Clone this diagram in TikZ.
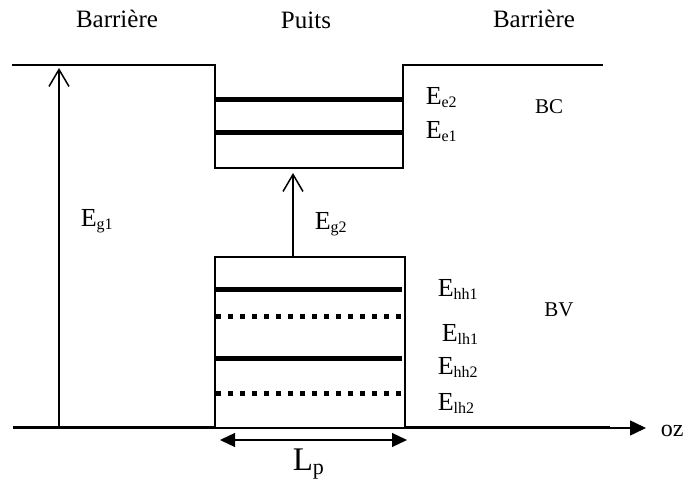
\documentclass[tikz,border=0pt]{standalone}
\usepackage{fontspec}
\setmainfont{Liberation Serif}
\usetikzlibrary{arrows.meta}
\newcommand{\indice}[1]{\raisebox{-3bp}{\fontsize{16bp}{16bp}\selectfont #1}}
\tikzset{
  etiq/.style={inner sep=0pt,anchor=base west,font=\fontsize{26bp}{26bp}\selectfont},
  titre/.style={inner sep=0pt,anchor=base,font=\fontsize{25bp}{25bp}\selectfont},
  bande/.style={inner sep=0pt,anchor=base,font=\fontsize{21bp}{21bp}\selectfont},
  niveauhh/.style={line width=5bp},
  niveaulh/.style={line width=5bp,dash pattern=on 5bp off 7bp},
  energie/.style={line width=1.5bp,-{Straight Barb[length=17bp,width=20bp]}},
}
\begin{document}
\begin{tikzpicture}[line width=1.5bp,line join=miter]
  \useasboundingbox (0bp,0bp) rectangle (684bp,481bp);
%%
  % Coordinates: bande de conduction
  \coordinate (bcg)  at (12bp,416bp);
  \coordinate (bchg) at (215bp,416bp);
  \coordinate (bcbg) at (215bp,313bp);
  \coordinate (bcbd) at (403bp,313bp);
  \coordinate (bchd) at (403bp,416bp);
  \coordinate (bcd)  at (603bp,416bp);
  % Coordinates: bande de valence
  \coordinate (bvg)  at (13bp,53bp);
  \coordinate (bvbg) at (215bp,53bp);
  \coordinate (bvhg) at (215bp,224bp);
  \coordinate (bvhd) at (405bp,224bp);
  \coordinate (bvbd) at (405bp,53bp);
  \coordinate (bvd)  at (610bp,53bp);
  \coordinate (oz)   at (646bp,53bp);
  % Edge: barriere -> puits -> barriere (BC)
  \draw (bcg) -- (bchg) -- (bcbg) -- (bcbd) -- (bchd) -- (bcd);
  % Edge: puits (BV)
  \draw (bvbg) -- (bvhg) -- (bvhd) -- (bvbd) -- cycle;
  % Edge: axe oz
  \draw [-{Triangle[length=16bp,width=15bp]}] (bvbd) -- (oz);
  \draw [line width=3bp] (bvg) -- (bvbg);
  \draw [line width=3bp] (bvbd) -- (bvd);
  % Edge: niveaux electrons
  \draw [niveauhh] (215bp,381bp) -- (403bp,381bp);
  \draw [niveauhh] (215bp,348bp) -- (403bp,348bp);
  % Edge: niveaux trous
  \draw [niveauhh] (216bp,191bp) -- (402bp,191bp);
  \draw [niveaulh] (216bp,164bp) -- (402bp,164bp);
  \draw [niveauhh] (216bp,122bp) -- (402bp,122bp);
  \draw [niveaulh] (216bp,87bp) -- (402bp,87bp);
  % Edge: Eg1, Eg2
  \coordinate (eg1b) at (59bp,53bp);
  \coordinate (eg1h) at (59bp,413bp);
  \coordinate (eg2b) at (293bp,224bp);
  \coordinate (eg2h) at (293bp,308bp);
  \draw [energie] (eg1b) -- (eg1h);
  \draw [energie] (eg2b) -- (eg2h);
  % Edge: Lp
  \coordinate (lpg) at (220bp,41bp);
  \coordinate (lpd) at (407bp,41bp);
  \draw [line width=1.2bp,{Triangle[length=15bp,width=14bp]}-{Triangle[length=15bp,width=14bp]}] (lpg) -- (lpd);
%%
  % Node: titres
  \node [titre] (barg)  at (117bp,453bp) {Barrière};
  \node [titre] (puits) at (306bp,452bp) {Puits};
  \node [titre] (bard)  at (534bp,453bp) {Barrière};
  % Node: bandes
  \node [bande] (bc) at (549bp,367bp) {BC};
  \node [bande] (bv) at (559bp,164bp) {BV};
  % Node: niveaux
  \node [etiq] (ee2)  at (425bp,376bp) {E\indice{e2}};
  \node [etiq] (ee1)  at (425bp,342bp) {E\indice{e1}};
  \node [etiq] (ehh1) at (437bp,184bp) {E\indice{hh1}};
  \node [etiq] (elh1) at (441bp,139bp) {E\indice{lh1}};
  \node [etiq] (ehh2) at (437bp,106bp) {E\indice{hh2}};
  \node [etiq] (elh2) at (437bp,70bp)  {E\indice{lh2}};
  % Node: gaps
  \node [etiq] (leg1) at (80bp,254bp)  {E\indice{g1}};
  \node [etiq] (leg2) at (314bp,251bp) {E\indice{g2}};
  % Node: Lp, oz
  \node [etiq,font=\fontsize{33bp}{33bp}\selectfont] (llp) at (292bp,11bp)
    {L\raisebox{-4bp}{\fontsize{22bp}{22bp}\selectfont p}};
  \node [etiq,font=\fontsize{24bp}{24bp}\selectfont] (loz) at (660bp,44bp) {oz};
%
\end{tikzpicture}
\end{document}
